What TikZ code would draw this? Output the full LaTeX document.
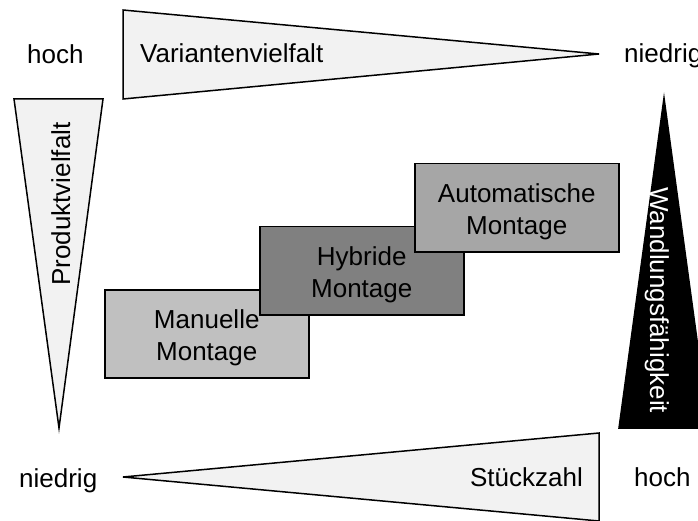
\documentclass[tikz,border=0pt]{standalone}
\usepackage{fontspec}
\setmainfont{Liberation Sans}
\definecolor{wedgefill}{HTML}{F2F2F2}
\definecolor{manfill}{HTML}{C0C0C0}
\definecolor{hybfill}{HTML}{808080}
\definecolor{autofill}{HTML}{A6A6A6}
\begin{document}
\begin{tikzpicture}[x=1pt,y=-1pt,
  lbl/.style={inner sep=0pt,font=\fontsize{26}{31.5}\selectfont},
  wedge/.style={draw=black,fill=wedgefill,line width=1.5pt},
  darkwedge/.style={draw=black,fill=black,line width=1.5pt},
  stage/.style={draw=black,line width=1.5pt,minimum width=204pt,
    minimum height=88pt,inner sep=0pt,anchor=north west},
  stagetext/.style={lbl,align=center,yshift=-4pt}]
\useasboundingbox (0,0) rectangle (698,521);

% wedges along the four sides
\draw[wedge] (123,10) -- (123,99) -- (599,54) -- cycle;
\draw[wedge] (14,99) -- (103,99) -- (59,428) -- cycle;
\draw[wedge] (599,433) -- (599,521) -- (123,477) -- cycle;
\draw[darkwedge] (664,98) -- (619,428) -- (709,428) -- cycle;

% assembly stages, each one overlapping the previous
\node[stage,fill=manfill] (man) at (104,289) {};
\node[stage,fill=hybfill] (hyb) at (259,226) {};
\node[stage,fill=autofill] (auto) at (414,163) {};

\node[stagetext] (mantext) at (man.center) {Manuelle\\Montage};
\node[stagetext] (hybtext) at (hyb.center) {Hybride\\Montage};
\node[stagetext] (autotext) at (auto.center) {Automatische\\Montage};

% axis labels
\node[lbl,anchor=base west] (hochtop) at (27,64) {hoch};
\node[lbl,anchor=base west] (niedrigtop) at (624,63) {niedrig};
\node[lbl,anchor=base west] (niedrigbot) at (19,487) {niedrig};
\node[lbl,anchor=base west] (hochbot) at (634,486) {hoch};
\node[lbl,anchor=base west] (variant) at (140,63) {Variantenvielfalt};
\node[lbl,anchor=base east] (stueck) at (583,486) {Stückzahl};
\node[lbl,anchor=base west,rotate=90] (produkt) at (70,286) {Produktvielfalt};
\node[lbl,anchor=base west,rotate=-90,text=white] (wandlung) at (650,187) {Wandlungsfähigkeit};
\end{tikzpicture}
\end{document}
